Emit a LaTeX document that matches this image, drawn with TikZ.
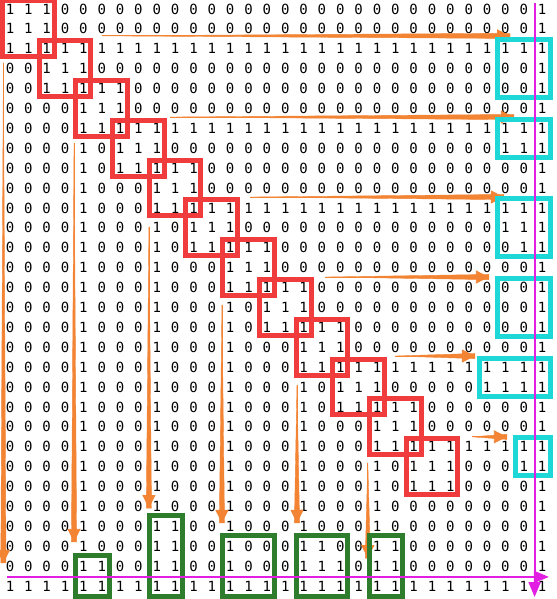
\documentclass[tikz,border=0pt]{standalone}
\usepackage{fontspec}
\setmonofont{DejaVu Sans Mono}
\usetikzlibrary{fit,arrows.meta}

\definecolor{boxred}{RGB}{240,60,60}
\definecolor{boxcyan}{RGB}{30,215,215}
\definecolor{boxgreen}{RGB}{45,125,45}
\definecolor{floworange}{RGB}{242,132,52}
\definecolor{sweepmag}{RGB}{225,30,225}

\tikzset{
  digit/.style={font=\ttfamily\fontsize{14}{14}\selectfont, inner sep=0pt},
  redbox/.style={draw=boxred, line width=5pt, inner xsep=7.5pt, inner ysep=8pt},
  cyanbox/.style={draw=boxcyan, line width=5pt, inner xsep=8pt, inner ysep=9pt},
  greenbox/.style={draw=boxgreen, line width=5pt, inner xsep=7.5pt, inner ysep=10.5pt},
  flowbody/.style={fill=floworange, draw=floworange, line width=0.4pt, line join=round},
  flow/.style={draw=floworange, line width=0.8pt, -{Triangle[length=13pt,width=13pt]}},
  sweep/.style={draw=sweepmag, line width=2pt, -{Triangle[length=15pt,width=12pt]}}
}

\begin{document}
\begin{tikzpicture}[x=18.35pt, y=-19.9pt]
\useasboundingbox (0.455,0.548) rectangle (30.81,30.65);

% the 0/1 entries, one list per row
\foreach \row [count=\i] in {
  {1,1,1,0,0,0,0,0,0,0,0,0,0,0,0,0,0,0,0,0,0,0,0,0,0,0,0,0,0,1},
  {1,1,1,0,0,0,0,0,0,0,0,0,0,0,0,0,0,0,0,0,0,0,0,0,0,0,0,0,0,1},
  {1,1,1,1,1,1,1,1,1,1,1,1,1,1,1,1,1,1,1,1,1,1,1,1,1,1,1,1,1,1},
  {0,0,1,1,1,0,0,0,0,0,0,0,0,0,0,0,0,0,0,0,0,0,0,0,0,0,0,0,0,1},
  {0,0,1,1,1,1,1,0,0,0,0,0,0,0,0,0,0,0,0,0,0,0,0,0,0,0,0,0,0,1},
  {0,0,0,0,1,1,1,0,0,0,0,0,0,0,0,0,0,0,0,0,0,0,0,0,0,0,0,0,0,1},
  {0,0,0,0,1,1,1,1,1,1,1,1,1,1,1,1,1,1,1,1,1,1,1,1,1,1,1,1,1,1},
  {0,0,0,0,1,0,1,1,1,0,0,0,0,0,0,0,0,0,0,0,0,0,0,0,0,0,0,1,1,1},
  {0,0,0,0,1,0,1,1,1,1,1,0,0,0,0,0,0,0,0,0,0,0,0,0,0,0,0,0,0,1},
  {0,0,0,0,1,0,0,0,1,1,1,0,0,0,0,0,0,0,0,0,0,0,0,0,0,0,0,0,0,1},
  {0,0,0,0,1,0,0,0,1,1,1,1,1,1,1,1,1,1,1,1,1,1,1,1,1,1,1,1,1,1},
  {0,0,0,0,1,0,0,0,1,0,1,1,1,0,0,0,0,0,0,0,0,0,0,0,0,0,0,1,1,1},
  {0,0,0,0,1,0,0,0,1,0,1,1,1,1,1,0,0,0,0,0,0,0,0,0,0,0,0,0,1,1},
  {0,0,0,0,1,0,0,0,1,0,0,0,1,1,1,0,0,0,0,0,0,0,0,0,0,0,0,0,0,1},
  {0,0,0,0,1,0,0,0,1,0,0,0,1,1,1,1,1,0,0,0,0,0,0,0,0,0,0,0,0,1},
  {0,0,0,0,1,0,0,0,1,0,0,0,1,0,1,1,1,0,0,0,0,0,0,0,0,0,0,0,0,1},
  {0,0,0,0,1,0,0,0,1,0,0,0,1,0,1,1,1,1,1,0,0,0,0,0,0,0,0,0,0,1},
  {0,0,0,0,1,0,0,0,1,0,0,0,1,0,0,0,1,1,1,0,0,0,0,0,0,0,0,0,0,1},
  {0,0,0,0,1,0,0,0,1,0,0,0,1,0,0,0,1,1,1,1,1,1,1,1,1,1,1,1,1,1},
  {0,0,0,0,1,0,0,0,1,0,0,0,1,0,0,0,1,0,1,1,1,0,0,0,0,0,1,1,1,1},
  {0,0,0,0,1,0,0,0,1,0,0,0,1,0,0,0,1,0,1,1,1,1,1,0,0,0,0,0,0,1},
  {0,0,0,0,1,0,0,0,1,0,0,0,1,0,0,0,1,0,0,0,1,1,1,0,0,0,0,0,0,1},
  {0,0,0,0,1,0,0,0,1,0,0,0,1,0,0,0,1,0,0,0,1,1,1,1,1,1,1,1,1,1},
  {0,0,0,0,1,0,0,0,1,0,0,0,1,0,0,0,1,0,0,0,1,0,1,1,1,0,0,0,1,1},
  {0,0,0,0,1,0,0,0,1,0,0,0,1,0,0,0,1,0,0,0,1,0,1,1,1,0,0,0,0,1},
  {0,0,0,0,1,0,0,0,1,0,0,0,1,0,0,0,1,0,0,0,1,0,0,0,0,0,0,0,0,1},
  {0,0,0,0,1,0,0,0,1,1,0,0,1,0,0,0,1,0,0,0,1,0,0,0,0,0,0,0,0,1},
  {0,0,0,0,1,0,0,0,1,1,0,0,1,0,0,0,1,1,0,0,1,1,0,0,0,0,0,0,0,1},
  {0,0,0,0,1,1,0,0,1,1,0,0,1,0,0,0,1,1,1,0,1,1,0,0,0,0,0,0,0,1},
  {1,1,1,1,1,1,1,1,1,1,1,1,1,1,1,1,1,1,1,1,1,1,1,1,1,1,1,1,1,1}}{
  \foreach \v [count=\j] in \row
    \node[digit] (c-\i-\j) at (\j,\i) {\v};
}

% orange arrows, thin at the start and wide near the head
\foreach \k/\xs/\ys/\xe in {1/6.01/2.35/28.25, 2/9.72/6.43/28.46, 3/14.08/10.45/27.92,
    4/18.17/14.47/27.1, 5/21.98/18.44/26.34, 6/26.18/22.5/28.08}{
  \coordinate (hs\k) at (\xs,\ys);
  \coordinate (he\k) at (\xe,\ys);
  \filldraw[flowbody] (hs\k) -- ([yshift=2.6pt]he\k) -- ([yshift=-2.6pt]he\k) -- cycle;
  \draw[flow] (hs\k) -- (he\k);
}
\foreach \k/\xs/\ys/\ye in {1/0.64/3.7/28.84, 2/4.49/7.73/27.78, 3/8.57/11.95/26.08,
    4/12.55/15.87/26.83, 5/16.64/19.9/26.83, 6/20.5/23.8/28.6}{
  \coordinate (vs\k) at (\xs,\ys);
  \coordinate (ve\k) at (\xs,\ye);
  \filldraw[flowbody] (vs\k) -- ([xshift=2.6pt]ve\k) -- ([xshift=-2.6pt]ve\k) -- cycle;
  \draw[flow] (vs\k) -- (ve\k);
}

% red blocks on the diagonal
\foreach \k [evaluate=\k as \a using int(2*\k-1), evaluate=\k as \b using int(2*\k+1)] in {1,...,12}
  \node[redbox, fit=(c-\a-\a.center)(c-\b-\b.center)] (red\k) {};

% cyan blocks on the right
\node[cyanbox, fit=(c-3-28.center)(c-5-30.center)] (cyan1) {};
\node[cyanbox, fit=(c-7-28.center)(c-8-30.center)] (cyan2) {};
\node[cyanbox, fit=(c-11-28.center)(c-13-30.center)] (cyan3) {};
\node[cyanbox, fit=(c-15-28.center)(c-17-30.center)] (cyan4) {};
\node[cyanbox, fit=(c-19-27.center)(c-20-30.center)] (cyan5) {};
\node[cyanbox, fit=(c-23-29.center)(c-24-30.center)] (cyan6) {};

% green blocks at the bottom
\node[greenbox, fit=(c-29-5.center)(c-30-6.center)] (green1) {};
\node[greenbox, fit=(c-27-9.center)(c-30-10.center)] (green2) {};
\node[greenbox, fit=(c-28-13.center)(c-30-15.center)] (green3) {};
\node[greenbox, fit=(c-28-17.center)(c-30-19.center)] (green4) {};
\node[greenbox, fit=(c-28-21.center)(c-30-22.center)] (green5) {};

% magenta border arrows
\coordinate (mv0) at (29.59,0.70);
\coordinate (mv1) at (29.59,30.55);
\coordinate (mh0) at (0.84,29.54);
\coordinate (mh1) at (30.37,29.54);
\draw[sweep] (mv0) -- (mv1);
\draw[sweep] (mh0) -- (mh1);
\end{tikzpicture}
\end{document}
